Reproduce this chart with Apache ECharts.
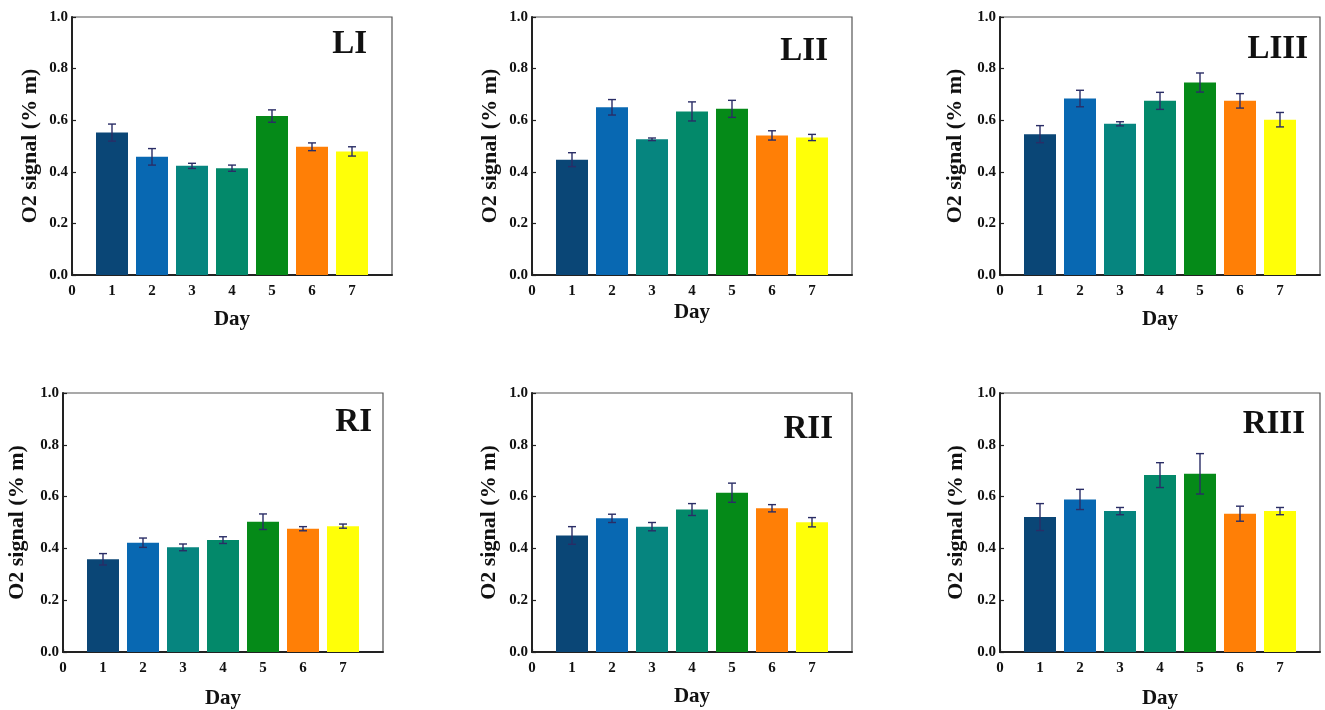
<!DOCTYPE html>
<html>
<head>
<meta charset="utf-8">
<script src="https://cdn.jsdelivr.net/npm/echarts@6/dist/echarts.min.js"></script>
<style>
  html, body { margin: 0; padding: 0; background: #fff; }
  #chart { width: 1325px; height: 710px; }
</style>
</head>
<body>
<div id="chart"></div>
<script>
const days = [1, 2, 3, 4, 5, 6, 7]
const barColors = ["#0a4676", "#0868b2", "#06857f", "#03896a", "#058a18", "#ff7f06", "#ffff08"]
const panelNames = ["LI", "LII", "LIII", "RI", "RII", "RIII"]

// mean O2 signal per day and its error, per position
const liMean = [0.552, 0.458, 0.423, 0.414, 0.616, 0.497, 0.479]
const liErr = [0.033, 0.032, 0.010, 0.012, 0.024, 0.015, 0.018]
const liiMean = [0.447, 0.650, 0.526, 0.634, 0.644, 0.541, 0.533]
const liiErr = [0.027, 0.030, 0.005, 0.037, 0.033, 0.018, 0.012]
const liiiMean = [0.546, 0.684, 0.586, 0.675, 0.746, 0.675, 0.602]
const liiiErr = [0.033, 0.032, 0.008, 0.033, 0.037, 0.028, 0.028]
const riMean = [0.358, 0.422, 0.404, 0.432, 0.503, 0.476, 0.486]
const riErr = [0.022, 0.018, 0.013, 0.013, 0.030, 0.008, 0.008]
const riiMean = [0.450, 0.516, 0.484, 0.550, 0.615, 0.555, 0.501]
const riiErr = [0.034, 0.016, 0.016, 0.023, 0.037, 0.014, 0.018]
const riiiMean = [0.521, 0.589, 0.544, 0.683, 0.688, 0.534, 0.544]
const riiiErr = [0.052, 0.039, 0.014, 0.048, 0.078, 0.029, 0.014]

const means = [liMean, liiMean, liiiMean, riMean, riiMean, riiiMean]
const errs = [liErr, liiErr, liiiErr, riErr, riiErr, riiiErr]

// layout of the six panels
const grids = [
  { left: 72, top: 17, width: 320, height: 258 },
  { left: 532, top: 17, width: 320, height: 258 },
  { left: 1000, top: 17, width: 320, height: 258 },
  { left: 63, top: 393, width: 320, height: 259 },
  { left: 532, top: 393, width: 320, height: 259 },
  { left: 1000, top: 393, width: 320, height: 259 },
]
const xNameGaps = [34, 27, 34, 36, 34, 36]
const yNameGaps = [31, 31, 34, 35, 32, 33]
const labelPos = [
  { right: 958, top: 28 },
  { right: 497, top: 35 },
  { right: 17, top: 33 },
  { right: 953, top: 406 },
  { right: 492, top: 413 },
  { right: 20, top: 408 },
]

const fontFamily = "'Liberation Serif', 'DejaVu Serif', serif"
const errColor = "#2a2d66"

function renderErr(params, api) {
  const x = api.value(0)
  const lo = api.coord([x, api.value(1)])
  const hi = api.coord([x, api.value(2)])
  const hw = 4
  const style = { stroke: errColor, lineWidth: 1.4 }
  return {
    type: "group",
    children: [
      { type: "line", shape: { x1: hi[0], y1: hi[1], x2: lo[0], y2: lo[1] }, style },
      { type: "line", shape: { x1: hi[0] - hw, y1: hi[1], x2: hi[0] + hw, y2: hi[1] }, style },
      { type: "line", shape: { x1: lo[0] - hw, y1: lo[1], x2: lo[0] + hw, y2: lo[1] }, style },
    ],
  }
}

const option = {
  animation: false,
  backgroundColor: "#fff",
  title: panelNames.map((name, i) => ({
    text: name,
    right: labelPos[i].right,
    top: labelPos[i].top,
    padding: 0,
    textStyle: { fontFamily, fontWeight: "bold", fontSize: 33, color: "#111" },
  })),
  grid: grids.map((g) => ({
    ...g,
    show: true,
    borderColor: "#555",
    borderWidth: 1.2,
    backgroundColor: "transparent",
  })),
  xAxis: grids.map((g, i) => ({
    type: "value",
    gridIndex: i,
    min: 0,
    max: 8,
    interval: 1,
    name: "Day",
    nameLocation: "middle",
    nameGap: xNameGaps[i],
    nameTextStyle: { fontFamily, fontWeight: "bold", fontSize: 21, color: "#111" },
    axisLine: { onZero: false, lineStyle: { color: "#222", width: 2 } },
    axisTick: { inside: true, length: 3, lineStyle: { color: "#222", width: 1.2 } },
    axisLabel: {
      showMaxLabel: false,
      margin: 9,
      fontFamily,
      fontWeight: "bold",
      fontSize: 15,
      color: "#111",
    },
    splitLine: { show: false },
  })),
  yAxis: grids.map((g, i) => ({
    type: "value",
    gridIndex: i,
    min: 0,
    max: 1,
    interval: 0.2,
    name: "O2 signal (% m)",
    nameLocation: "middle",
    nameGap: yNameGaps[i],
    nameTextStyle: { fontFamily, fontWeight: "bold", fontSize: 22, color: "#111" },
    axisLine: { show: true, lineStyle: { color: "#222", width: 2 } },
    axisTick: { show: true, inside: true, length: 4, lineStyle: { color: "#222", width: 1.2 } },
    axisLabel: {
      margin: 4,
      fontFamily,
      fontWeight: "bold",
      fontSize: 15,
      color: "#111",
      formatter: (v) => v.toFixed(1),
    },
    splitLine: { show: false },
  })),
  series: [],
}

means.forEach((m, k) => {
  option.series.push({
    type: "bar",
    name: panelNames[k],
    xAxisIndex: k,
    yAxisIndex: k,
    barWidth: 32,
    data: days.map((d, i) => ({ value: [d, m[i]], itemStyle: { color: barColors[i] } })),
  })
  option.series.push({
    type: "custom",
    name: panelNames[k] + " err",
    xAxisIndex: k,
    yAxisIndex: k,
    renderItem: renderErr,
    encode: { x: 0, y: [1, 2] },
    z: 5,
    data: days.map((d, i) => [d, m[i] - errs[k][i], m[i] + errs[k][i]]),
  })
})

const chart = echarts.init(document.getElementById("chart"))
chart.setOption(option)
window.addEventListener("resize", () => chart.resize())
</script>
</body>
</html>
